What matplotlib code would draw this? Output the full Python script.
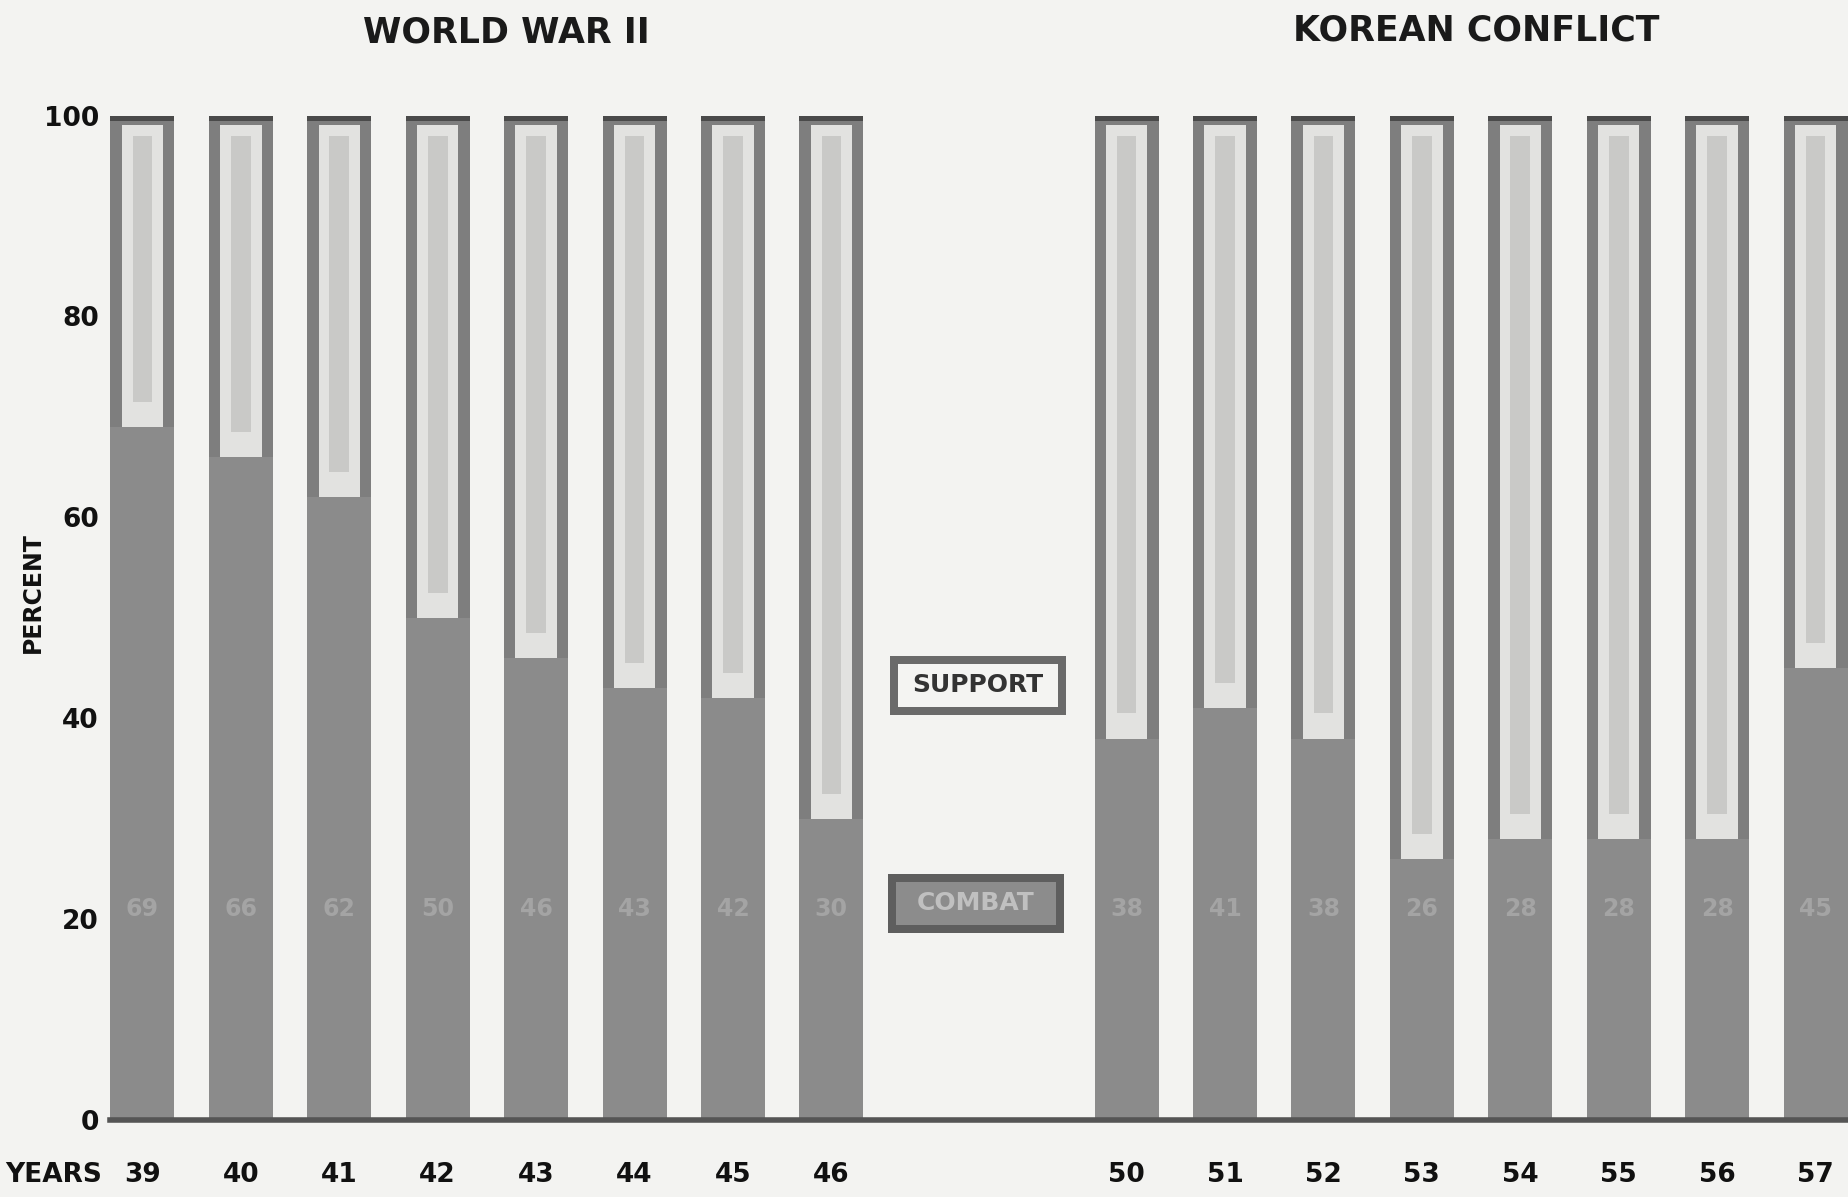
import matplotlib
matplotlib.use("Agg")
import matplotlib.pyplot as plt
from matplotlib.patches import Rectangle
import numpy as np

# ---- data ----
ww2_years = ["39", "40", "41", "42", "43", "44", "45", "46"]
ww2_combat = [69, 66, 62, 50, 46, 43, 42, 30]
korea_years = ["50", "51", "52", "53", "54", "55", "56", "57"]
korea_combat = [38, 41, 38, 26, 28, 28, 28, 45]
yticks = [0, 20, 40, 60, 80, 100]

years = ww2_years + korea_years
combat = np.array(ww2_combat + korea_combat, dtype=float)
support = 100 - combat
x = np.array(list(range(8)) + list(range(10, 18)), dtype=float)

plt.rcParams['font.family'] = ['DejaVu Sans']
bg = '#f3f3f1'
fig = plt.figure(figsize=(18.48, 11.97), dpi=100, facecolor=bg)
ax = fig.add_axes([0.0595, 0.064, 0.9405, 0.8395], facecolor=bg)

W = 0.65
# combat part
ax.bar(x, combat, width=W, color='#8b8b8b', edgecolor='none', zorder=2)
# support outer frame
ax.bar(x, support, bottom=combat, width=W, color='#7e7e7e', edgecolor='none', zorder=2)
# support inner light area
ax.bar(x, support - 0.9, bottom=combat, width=0.42, color='#e2e2e0', edgecolor='none', zorder=3)
# textured strip
ax.bar(x, support - 4.5, bottom=combat + 2.5, width=0.2, color='#c9c9c7', edgecolor='none', zorder=4)
# dark top cap
ax.bar(x, 0.5, bottom=99.5, width=W, color='#4a4a4a', edgecolor='none', zorder=5)

for xi, c in zip(x, combat):
    ax.text(xi, 21, f"{int(c)}", ha='center', va='center', fontsize=17,
            fontweight='bold', color='#a4a4a4', zorder=6)

ax.set_xlim(-0.33, 17.33)
ax.set_ylim(0, 100)
ax.set_yticks(yticks)
ax.set_yticklabels([str(v) for v in yticks], fontsize=19, fontweight='bold', color='#111')
ax.set_xticks(x)
ax.set_xticklabels(years, fontsize=19, fontweight='bold', color='#111')
ax.tick_params(axis='both', length=0)
ax.tick_params(axis='x', pad=30)
ax.tick_params(axis='y', pad=8)
for s in ['left', 'right', 'top']:
    ax.spines[s].set_visible(False)
ax.spines['bottom'].set_color('#555555')
ax.spines['bottom'].set_linewidth(4)
ax.spines['bottom'].set_zorder(6)

ax.annotate("YEARS", xy=(-0.33, 0), xycoords='data', xytext=(-6, -30),
            textcoords='offset points', ha='right', va='top', fontsize=19,
            fontweight='bold', color='#111', annotation_clip=False)

fig.text(0.018, 0.505, "PERCENT", rotation=90, ha='center', va='center',
         fontsize=17, fontweight='bold', color='#111')

ax.text(3.7, 108.3, "WORLD WAR II", ha='center', va='center', fontsize=25,
        fontweight='bold', color='#1a1a1a', clip_on=False)
ax.text(13.55, 108.5, "KOREAN CONFLICT", ha='center', va='center', fontsize=25,
        fontweight='bold', color='#1a1a1a', clip_on=False)

# legend boxes
def box(xc, yc, label, face, edge, tcolor):
    w, h = 1.78, 5.9
    ax.add_patch(Rectangle((xc - w / 2, yc - h / 2), w, h, facecolor=edge,
                           edgecolor='none', zorder=5))
    iw, ih = w - 0.16, h - 1.6
    ax.add_patch(Rectangle((xc - iw / 2, yc - ih / 2), iw, ih, facecolor=face,
                           edgecolor='none', zorder=6))
    ax.text(xc, yc, label, ha='center', va='center', fontsize=18,
            fontweight='bold', color=tcolor, zorder=7)

box(8.49, 43.3, "SUPPORT", '#f4f4f2', '#6a6a6a', '#333333')
box(8.47, 21.6, "COMBAT", '#8c8c8c', '#5e5e5e', '#c0c0c0')

fig.savefig("out.png", dpi=100, facecolor=bg)
